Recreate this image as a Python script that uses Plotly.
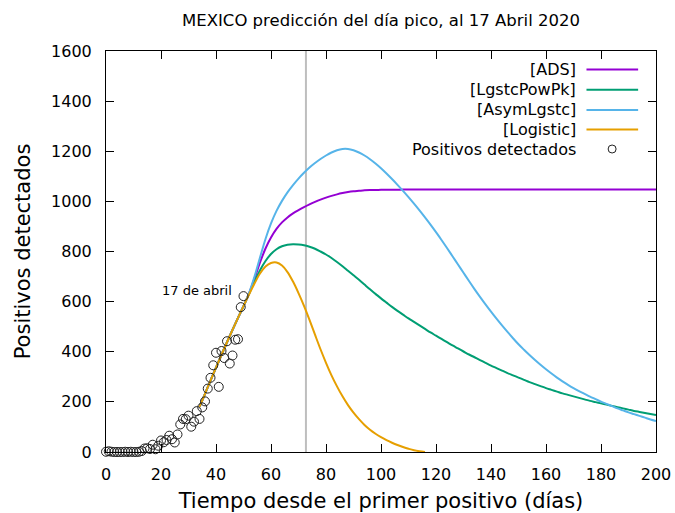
import plotly.graph_objects as go

# Daily confirmed positives, day 0 = first positive case
dias = list(range(0, 51))
positivos = [1, 3, 1, 0, 0, 0, 0, 1, 0, 1, 0, 0, 1, 4, 14, 15, 12, 29, 11, 25,
             46, 39, 48, 65, 51, 38, 70, 110, 132, 131, 145, 101, 121, 163, 132,
             178, 202, 253, 296, 346, 396, 260, 403, 375, 442, 353, 385, 448, 450,
             578, 622]

# Fitted model curves, sampled every 2 days from day 34
dias_modelo = list(range(34, 201, 2))

ads_y = [180, 232, 285, 337, 388, 438, 487, 535, 582, 632, 692, 756, 812, 856,
         890, 916, 936, 952, 965, 977, 988, 998, 1007, 1015, 1022, 1028, 1033,
         1037, 1040, 1042, 1044, 1045, 1045, 1046, 1046, 1046, 1046, 1047, 1047,
         1047, 1047, 1047, 1047, 1047, 1047, 1047, 1047, 1047, 1047, 1047, 1047,
         1047, 1047, 1047, 1047, 1047, 1047, 1047, 1047, 1047, 1047, 1047, 1047,
         1047, 1047, 1047, 1047, 1047, 1047, 1047, 1047, 1047, 1047, 1047, 1047,
         1047, 1047, 1047, 1047, 1047, 1047, 1047, 1047, 1047]

pow_y = [180, 232, 285, 337, 388, 438, 487, 535, 582, 630, 680, 725, 762, 790,
         809, 821, 827, 829, 828, 825, 819, 811, 800, 788, 774, 758, 741, 723,
         705, 687, 668, 649, 631, 613, 596, 579, 563, 548, 533, 519, 505, 491,
         477, 464, 451, 438, 425, 413, 401, 389, 378, 367, 356, 345, 335, 325,
         315, 306, 297, 288, 279, 271, 263, 255, 248, 241, 234, 228, 222, 216,
         210, 204, 199, 194, 189, 184, 179, 174, 169, 164, 160, 156, 152, 148]

asym_y = [180, 232, 285, 337, 388, 438, 487, 535, 582, 634, 700, 776, 850, 912,
          962, 1002, 1036, 1065, 1091, 1114, 1135, 1153, 1169, 1183, 1195, 1204,
          1209, 1209, 1204, 1195, 1183, 1168, 1151, 1132, 1111, 1089, 1066, 1042,
          1017, 991, 964, 936, 907, 877, 846, 814, 781, 748, 715, 682, 650, 619,
          589, 560, 532, 505, 479, 454, 430, 408, 387, 367, 348, 330, 313, 297,
          282, 268, 255, 243, 232, 221, 211, 201, 192, 183, 174, 166, 158, 151,
          144, 137, 130, 124]

# Logistic curve reaches zero near day 116
log_dias = list(range(34, 117, 2))
log_y = [180, 232, 285, 337, 388, 438, 487, 535, 582, 628, 672, 712, 740, 754,
         756, 744, 718, 680, 634, 583, 527, 468, 410, 356, 306, 262, 222, 187,
         157, 131, 108, 89, 73, 59, 47, 37, 28, 20, 13, 7, 3, 0]

dia_pico = 72.7

nombres = ["[ADS]", "[LgstcPowPk]", "[AsymLgstc]", "[Logistic]"]
colores = ["#9400D3", "#009E73", "#56B4E9", "#E69F00"]
curvas = [(dias_modelo, ads_y), (dias_modelo, pow_y), (dias_modelo, asym_y),
          (log_dias, log_y)]

FONT = "DejaVu Sans"

fig = go.Figure()

for nombre, color, (cx, cy) in zip(nombres, colores, curvas):
    fig.add_trace(go.Scatter(
        x=cx, y=cy, mode="lines", name=nombre,
        line=dict(color=color, width=2, shape="spline", smoothing=1.0),
        showlegend=False,
    ))

fig.add_trace(go.Scatter(
    x=dias, y=positivos, mode="markers", name="Positivos detectados",
    marker=dict(symbol="circle-open", size=9, color="#222222",
                line=dict(width=1, color="#222222")),
    cliponaxis=False, showlegend=False,
))

# Vertical line at the predicted peak day
fig.add_shape(type="line", xref="x", yref="paper", x0=dia_pico, x1=dia_pico,
              y0=0, y1=1, line=dict(color="#bebebe", width=2), layer="below")

fig.add_annotation(x=46.5, y=646, xref="x", yref="y", text="17 de abril",
                   showarrow=False, xanchor="right", yanchor="middle",
                   font=dict(family=FONT, size=13, color="black"))

# Key: label right-aligned, sample to its right
key_rows = [0.9539, 0.9035, 0.8529, 0.8042, 0.7556]
key_text_x = 0.8573
key_line = (0.8736, 0.9675)
key_etiquetas = nombres + ["Positivos detectados"]
for i, (etq, yk) in enumerate(zip(key_etiquetas, key_rows)):
    fig.add_annotation(x=key_text_x, y=yk, xref="paper", yref="paper", text=etq,
                       showarrow=False, xanchor="right", yanchor="middle",
                       font=dict(family=FONT, size=16, color="black"))
    if i < 4:
        fig.add_shape(type="line", xref="paper", yref="paper",
                      x0=key_line[0], x1=key_line[1], y0=yk, y1=yk,
                      line=dict(color=colores[i], width=2))
    else:
        cxp = 0.9202
        rx, ry = 4 / 550, 4 / 401
        fig.add_shape(type="circle", xref="paper", yref="paper",
                      x0=cxp - rx, x1=cxp + rx, y0=yk - ry, y1=yk + ry,
                      line=dict(color="#222222", width=1))

eje = dict(showline=True, linecolor="black", linewidth=1, mirror="ticks",
           ticks="inside", ticklen=8, tickcolor="black", tickwidth=1,
           showgrid=False, zeroline=False, automargin=False,
           tickfont=dict(family=FONT, size=16, color="black"))

fig.update_xaxes(range=[0, 200], tickvals=list(range(0, 201, 20)),
                 title=dict(text="Tiempo desde el primer positivo (días)",
                            font=dict(family=FONT, size=21, color="black"),
                            standoff=17),
                 ticklabelstandoff=8, **eje)
fig.update_yaxes(range=[0, 1600], tickvals=list(range(0, 1601, 200)),
                 title=dict(text="Positivos detectados",
                            font=dict(family=FONT, size=21, color="black"),
                            standoff=14),
                 ticklabelstandoff=10, **eje)

fig.update_layout(
    width=675, height=513, autosize=False,
    margin=dict(l=106, r=19, t=51, b=61),
    paper_bgcolor="white", plot_bgcolor="white",
    title=dict(text="MEXICO predicción del día pico, al 17 Abril 2020",
               x=0.5, xref="paper", y=1 - 20 / 513, yanchor="middle",
               font=dict(family=FONT, size=16.5, color="black")),
    font=dict(family=FONT),
)

fig.write_html("out.html")
